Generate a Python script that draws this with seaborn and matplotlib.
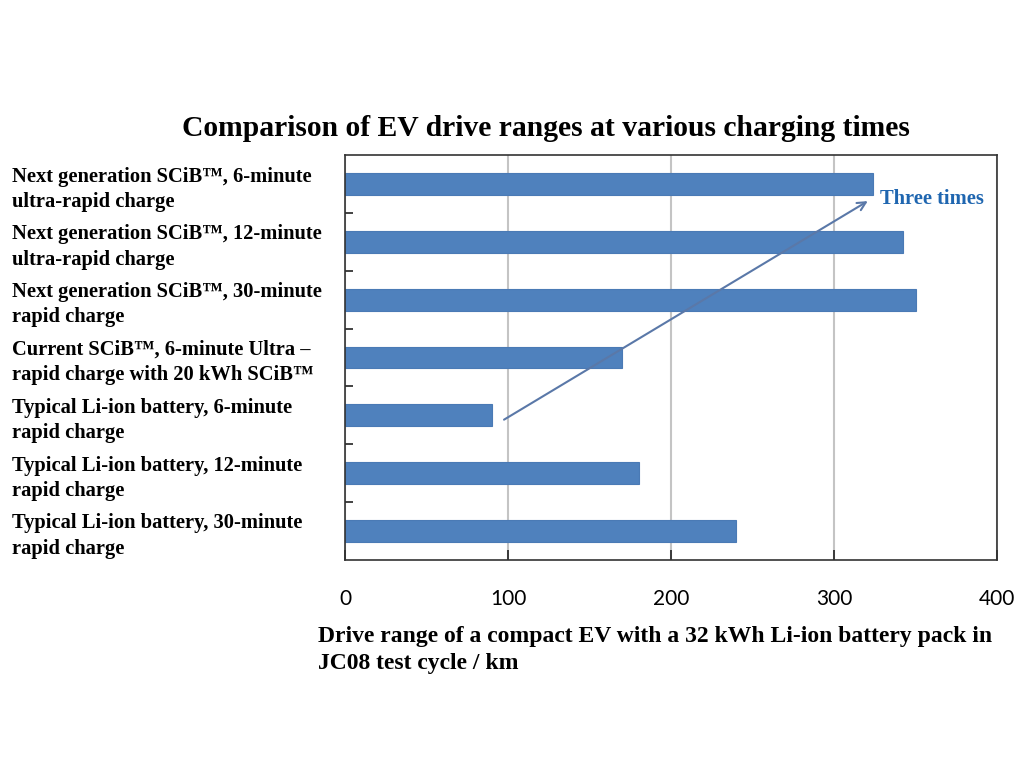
import matplotlib
matplotlib.use("Agg")
import matplotlib.pyplot as plt
import seaborn as sns

# bar labels, top to bottom
tm = "\u2122"
labels = [
    f"Next generation SCiB{tm}, 6-minute\nultra-rapid charge",
    f"Next generation SCiB{tm}, 12-minute\nultra-rapid charge",
    f"Next generation SCiB{tm}, 30-minute\nrapid charge",
    f"Current SCiB{tm}, 6-minute Ultra \u2013\nrapid charge with 20 kWh SCiB{tm}",
    "Typical Li-ion battery, 6-minute\nrapid charge",
    "Typical Li-ion battery, 12-minute\nrapid charge",
    "Typical Li-ion battery, 30-minute\nrapid charge",
]
drive_range = [324, 342, 350, 170, 90, 180, 240]
x_ticks = [0, 100, 200, 300, 400]

sns.set_style("white")
plt.rcParams["font.family"] = ["Liberation Serif", "DejaVu Serif"]
plt.rcParams["text.color"] = "black"

fig = plt.figure(figsize=(10.24, 7.68), dpi=100)
ax = fig.add_axes([0.337, 0.271, 0.637, 0.527])

sns.barplot(x=drive_range, y=labels, orient="h", color="#4F81BD",
            saturation=1, width=0.38, edgecolor="#4A7AB5", linewidth=0.8, ax=ax)

ax.set_xlim(0, 400)
ax.set_xticks(x_ticks)
ax.set_xticklabels([str(t) for t in x_ticks], family="Lato", fontsize=15, color="black")
ax.grid(axis="x", color="#c4c4c4", linewidth=1.5)
ax.set_axisbelow(True)
ax.tick_params(axis="x", bottom=True, length=7, direction="in", width=1.2, color="#222222", pad=21)

# labels left-aligned at the figure edge, ticks at the category boundaries
ax.tick_params(axis="y", which="major", left=True, length=0, pad=240)
for t in ax.get_yticklabels():
    t.set_horizontalalignment("left")
    t.set_fontweight("bold")
    t.set_fontsize(14.8)
    t.set_color("black")
    t.set_linespacing(1.35)
ax.set_yticks([i + 0.5 for i in range(len(labels) - 1)], minor=True)
ax.tick_params(axis="y", which="minor", left=True, length=6, direction="in", width=1.2, color="#222222")

for s in ax.spines.values():
    s.set_color("#333333")
    s.set_linewidth(1.2)

ax.set_xlabel("Drive range of a compact EV with a 32 kWh Li-ion battery pack in\nJC08 test cycle / km",
              fontsize=17, fontweight="bold", ha="left", x=-0.041, multialignment="left",
              labelpad=12.5, linespacing=1.35, color="black")
ax.set_ylabel("")

ax.annotate("", xy=(322, 0.27), xytext=(96, 4.1),
            arrowprops=dict(arrowstyle="->", color="#5a78a8", lw=1.5, mutation_scale=15))
ax.text(328, 0.25, "Three times", color="#1F66B0", fontsize=14.8, fontweight="bold", va="center")

fig.suptitle("Comparison of EV drive ranges at various charging times",
             x=0.533, y=0.850, fontsize=21.3, fontweight="bold", color="black")

fig.savefig("out.png", dpi=100)
